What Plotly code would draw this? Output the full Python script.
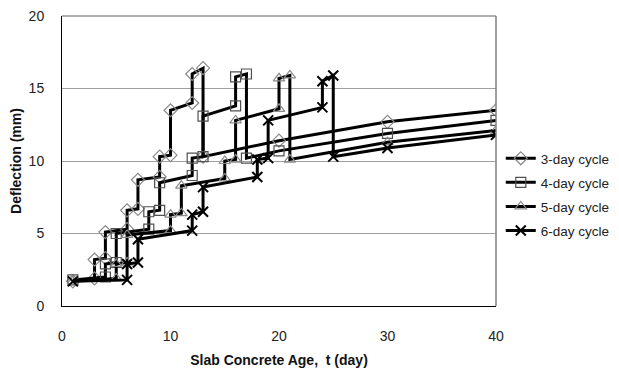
import plotly.graph_objects as go

# ---- data ----
t3 = [1, 3, 3, 4, 4, 6, 6, 7, 7, 9, 9, 10, 10, 12, 12, 13, 13, 20, 30, 40]
d3 = [1.7, 1.9, 3.2, 3.3, 5.1, 5.3, 6.6, 6.7, 8.7, 8.9, 10.3, 10.4, 13.5, 14.0, 16.0, 16.4, 10.3, 11.4, 12.7, 13.5]

t4 = [1, 4, 4, 5, 5, 8, 8, 9, 9, 12, 12, 13, 13, 16, 16, 17, 17, 20, 30, 40]
d4 = [1.8, 2.0, 2.9, 3.0, 5.0, 5.3, 6.5, 6.6, 8.5, 9.0, 10.2, 10.3, 13.1, 13.8, 15.8, 16.0, 10.2, 10.7, 11.9, 12.8]

t5 = [1, 5, 5, 6, 6, 10, 10, 11, 11, 15, 15, 16, 16, 20, 20, 21, 21, 30, 40]
d5 = [1.7, 1.9, 2.9, 3.0, 4.9, 5.2, 6.3, 6.4, 8.3, 8.8, 10.0, 10.1, 12.8, 13.6, 15.7, 15.9, 10.1, 11.3, 12.1]

t6 = [1, 6, 6, 7, 7, 12, 12, 13, 13, 18, 18, 19, 19, 24, 24, 25, 25, 30, 40]
d6 = [1.7, 1.8, 2.9, 3.0, 4.6, 5.2, 6.3, 6.5, 8.2, 8.9, 10.1, 10.2, 12.8, 13.7, 15.5, 15.9, 10.3, 10.9, 11.8]

series = [
    ("3-day cycle", t3, d3, "diamond-open", "#8a8a8a", 10),
    ("4-day cycle", t4, d4, "square-open", "#505050", 10),
    ("5-day cycle", t5, d5, "triangle-up-open", "#8a8a8a", 10),
    ("6-day cycle", t6, d6, "x-thin-open", "#000000", 10),
]

x_ticks = [0, 10, 20, 30, 40]
y_ticks = [0, 5, 10, 15, 20]

fig = go.Figure()
for i, (name, t, d, sym, mcol, msize) in enumerate(series):
    fig.add_trace(go.Scatter(
        x=t, y=d, name=name, mode="lines+markers",
        legendgroup=f"g{i}",
        line=dict(color="black", width=3),
        marker=dict(symbol=sym, size=msize, color=mcol,
                    line=dict(color=mcol, width=2 if sym.startswith("x") else 1.2)),
    ))

font = "Liberation Sans, Arial, sans-serif"
# page body has an 8px margin, so the figure is sized/offset to compensate
fig.update_layout(
    width=611, height=368,
    margin=dict(l=54, r=123, t=8, b=70, autoexpand=False),
    paper_bgcolor="white", plot_bgcolor="white",
    font=dict(family=font, size=14, color="#222"),
    showlegend=True,
    legend=dict(x=1.011, y=0.562, xanchor="left", yanchor="top",
                font=dict(family=font, size=13.5, color="#222"),
                tracegroupgap=3.5, traceorder="grouped",
                bgcolor="rgba(0,0,0,0)", itemwidth=30),
    xaxis=dict(range=[0, 40], tickvals=x_ticks, showgrid=False, zeroline=False,
               automargin=False, ticklabeloverflow="allow",
               showline=True, linecolor="black", linewidth=1,
               ticks="outside", ticklen=17, tickcolor="rgba(0,0,0,0)",
               tickfont=dict(size=14),
               title=dict(text="<b>Slab Concrete Age,  t (day)</b>",
                          font=dict(size=14, color="#111"), standoff=12)),
    yaxis=dict(range=[0, 20], tickvals=y_ticks, showgrid=True, gridcolor="#a0a0a0",
               gridwidth=1, zeroline=False, automargin=False,
               ticklabeloverflow="allow",
               showline=True, linecolor="black", linewidth=1,
               ticks="outside", ticklen=14, tickcolor="rgba(0,0,0,0)",
               tickfont=dict(size=14),
               title=dict(text="<b>Deflection (mm)</b>",
                          font=dict(size=14, color="#111"), standoff=4)),
    shapes=[
        dict(type="line", xref="paper", yref="paper", x0=1, x1=1, y0=0, y1=1,
             line=dict(color="#808080", width=1.5)),
        dict(type="line", xref="paper", yref="paper", x0=0, x1=1, y0=1, y1=1,
             line=dict(color="#606060", width=1)),
    ],
)

fig.write_html("out.html")
